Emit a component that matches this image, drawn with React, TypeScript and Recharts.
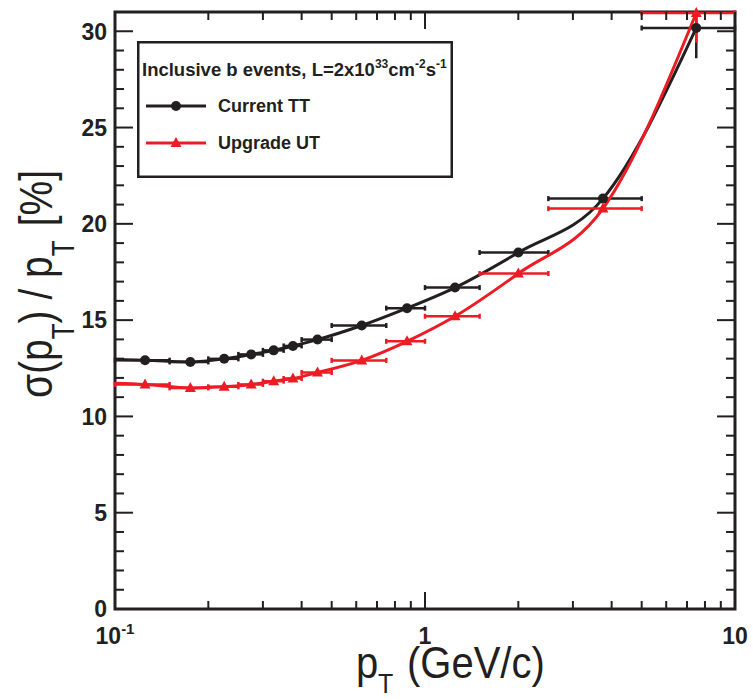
import React from "react";
import {
  ComposedChart,
  ErrorBar,
  Legend,
  Line,
  ReferenceArea,
  Scatter,
  XAxis,
  YAxis,
} from "recharts";

// pT bins (GeV/c): centre and half width
const ptCenters = [0.125, 0.175, 0.225, 0.275, 0.325, 0.375, 0.45, 0.625, 0.875, 1.25, 2, 3.75, 7.5];
const ptHalfWidths = [0.025, 0.025, 0.025, 0.025, 0.025, 0.025, 0.05, 0.125, 0.125, 0.25, 0.5, 1.25, 2.5];

// sigma(pT)/pT [%]
const currentTT = [12.92, 12.83, 12.99, 13.22, 13.43, 13.66, 13.99, 14.72, 15.62, 16.69, 18.51, 21.31, 30.17];
const upgradeUT = [11.66, 11.48, 11.54, 11.66, 11.83, 11.97, 12.28, 12.91, 13.9, 15.2, 17.42, 20.79, 30.95];

// vertical errors (only the last bin has a visible one)
const currentTTErrLow = [0, 0, 0, 0, 0, 0, 0, 0, 0, 0, 0, 0, 1.57];
const currentTTErrHigh = [0, 0, 0, 0, 0, 0, 0, 0, 0, 0, 0, 0, 0.8];
const upgradeUTErrLow = [0, 0, 0, 0, 0, 0, 0, 0, 0, 0, 0, 0, 1.55];
const upgradeUTErrHigh = [0, 0, 0, 0, 0, 0, 0, 0, 0, 0, 0, 0, 0.04];

// where the smooth curves meet the left frame (pT = 0.1)
const curveStartPt = 0.1;
const currentTTCurveStart = 12.95;
const upgradeUTCurveStart = 11.72;

const xTicks = [0.1, 0.2, 0.3, 0.4, 0.5, 0.6, 0.7, 0.8, 0.9, 1, 2, 3, 4, 5, 6, 7, 8, 9, 10];
const xMajor = [0.1, 1, 10];
const xLabelBase = ["10", "1", "10"];
const xLabelExp = ["-1", "", ""];
const yTicks = Array.from({ length: 31 }, (_, i) => i);

const FONT = '"Liberation Sans", Arial, Helvetica, sans-serif';
const INK = "#231f20";
const RED = "#ed1c24";

const PLOT_LEFT = 115;
const PLOT_RIGHT = 735;
const PLOT_TOP = 12;
const PLOT_BOTTOM = 609;

const ttPoints = ptCenters.map((x, i) => ({
  x,
  y: currentTT[i],
  ex: ptHalfWidths[i],
  ey: [currentTTErrLow[i], currentTTErrHigh[i]],
}));
const utPoints = ptCenters.map((x, i) => ({
  x,
  y: upgradeUT[i],
  ex: ptHalfWidths[i],
  ey: [upgradeUTErrLow[i], upgradeUTErrHigh[i]],
}));
const ttCurve = [{ x: curveStartPt, y: currentTTCurveStart }, ...ttPoints.map((p) => ({ x: p.x, y: p.y }))];
const utCurve = [{ x: curveStartPt, y: upgradeUTCurveStart }, ...utPoints.map((p) => ({ x: p.x, y: p.y }))];

function XTick(props: any) {
  const { x, payload } = props;
  const idx = xMajor.indexOf(payload.value);
  const len = idx >= 0 ? 17 : 8;
  return (
    <g>
      <line x1={x} x2={x} y1={PLOT_BOTTOM} y2={PLOT_BOTTOM - len} stroke={INK} strokeWidth={2} />
      <line x1={x} x2={x} y1={PLOT_TOP} y2={PLOT_TOP + len} stroke={INK} strokeWidth={2} />
      {idx >= 0 && (
        <text x={x} y={644} textAnchor="middle" fontFamily={FONT} fontWeight="bold" fontSize={23} fill={INK}>
          {xLabelBase[idx]}
          {xLabelExp[idx] && (
            <tspan dy={-10} fontSize={15}>
              {xLabelExp[idx]}
            </tspan>
          )}
        </text>
      )}
    </g>
  );
}

function YTick(props: any) {
  const { y, payload } = props;
  const major = payload.value % 5 === 0;
  const len = major ? 18 : 9;
  return (
    <g>
      <line x1={PLOT_LEFT} x2={PLOT_LEFT + len} y1={y} y2={y} stroke={INK} strokeWidth={2} />
      <line x1={PLOT_RIGHT} x2={PLOT_RIGHT - len} y1={y} y2={y} stroke={INK} strokeWidth={2} />
      {major && (
        <text x={107} y={y} dy="0.36em" textAnchor="end" fontFamily={FONT} fontWeight="bold" fontSize={23} fill={INK}>
          {payload.value}
        </text>
      )}
    </g>
  );
}

function XTitle() {
  return (
    <g transform="translate(0,678) scale(1,1.1)">
      <text x={356} y={0} fontFamily={FONT} fontSize={40} fill={INK}>
        p
        <tspan x={378} dy={14} fontSize={25}>T</tspan>
        <tspan x={407} dy={-14}>(GeV/c)</tspan>
      </text>
    </g>
  );
}

function YTitle() {
  return (
    <g transform="translate(52,398) rotate(-90) scale(1,1.2)">
      <text x={0} y={0} fontFamily={FONT} fontSize={39} fill={INK}>
        σ(p
        <tspan dy={18} fontSize={26}>T</tspan>
        <tspan dy={-18}>) / p</tspan>
        <tspan dy={18} fontSize={26}>T</tspan>
        <tspan dy={-18} dx={14}>[%]</tspan>
      </text>
    </g>
  );
}

function Dot(props: any) {
  const { cx, cy } = props;
  return <circle cx={cx} cy={cy} r={5} fill={INK} />;
}

function Triangle(props: any) {
  const { cx, cy } = props;
  return <path d={`M${cx - 5.5},${cy + 4} L${cx + 5.5},${cy + 4} L${cx},${cy - 6} Z`} fill={RED} />;
}

function LegendBox() {
  return (
    <svg width={316} height={137} style={{ display: "block" }}>
      <rect x={1.25} y={1.25} width={313.5} height={134.5} fill="#fff" stroke={INK} strokeWidth={2.5} />
      <text x={5} y={35} fontFamily={FONT} fontWeight="bold" fontSize={18.5} fill={INK}>
        Inclusive b events, L=2x10
        <tspan dy={-8} fontSize={12}>33</tspan>
        <tspan dy={8}>cm</tspan>
        <tspan dy={-8} fontSize={12}>-2</tspan>
        <tspan dy={8}>s</tspan>
        <tspan dy={-8} fontSize={12}>-1</tspan>
      </text>
      <line x1={9} x2={69} y1={65} y2={65} stroke={INK} strokeWidth={3} />
      <circle cx={39} cy={65} r={5} fill={INK} />
      <text x={81} y={71} fontFamily={FONT} fontWeight="bold" fontSize={18} fill={INK}>
        Current TT
      </text>
      <line x1={9} x2={69} y1={102} y2={102} stroke={RED} strokeWidth={3} />
      <path d="M33.5,106 L44.5,106 L39,96 Z" fill={RED} />
      <text x={81} y={108} fontFamily={FONT} fontWeight="bold" fontSize={18} fill={INK}>
        Upgrade UT
      </text>
    </svg>
  );
}

export default function App() {
  return (
    <div style={{ position: "absolute", left: 0, top: 0, width: 753, height: 700, background: "#fff" }}>
      <ComposedChart width={753} height={700} margin={{ top: PLOT_TOP, right: 753 - PLOT_RIGHT, bottom: 0, left: 0 }}>
        <XAxis
          dataKey="x"
          type="number"
          scale="log"
          domain={[0.1, 10]}
          ticks={xTicks}
          interval={0}
          height={700 - PLOT_BOTTOM}
          tickSize={0}
          tickMargin={0}
          tickLine={false}
          axisLine={false}
          tick={<XTick />}
          label={<XTitle />}
        />
        <YAxis
          type="number"
          domain={[0, 31]}
          ticks={yTicks}
          interval={0}
          width={PLOT_LEFT}
          tickSize={0}
          tickMargin={0}
          tickLine={false}
          axisLine={false}
          tick={<YTick />}
          label={<YTitle />}
        />
        <ReferenceArea
          x1={0.1}
          x2={10}
          y1={0}
          y2={31}
          fill="none"
          fillOpacity={0}
          stroke={INK}
          strokeWidth={3}
          ifOverflow="visible"
        />
        <Line
          data={ttCurve}
          dataKey="y"
          type="monotone"
          stroke={INK}
          strokeWidth={3}
          dot={false}
          activeDot={false}
          isAnimationActive={false}
          legendType="none"
        />
        <Scatter data={ttPoints} dataKey="y" fill={INK} shape={<Dot />} isAnimationActive={false} legendType="none">
          <ErrorBar dataKey="ex" direction="x" width={2.5} stroke={INK} strokeWidth={2.5} isAnimationActive={false} />
          <ErrorBar dataKey="ey" direction="y" width={0} stroke={INK} strokeWidth={2.5} isAnimationActive={false} />
        </Scatter>
        <Line
          data={utCurve}
          dataKey="y"
          type="monotone"
          stroke={RED}
          strokeWidth={3}
          dot={false}
          activeDot={false}
          isAnimationActive={false}
          legendType="none"
        />
        <Scatter data={utPoints} dataKey="y" fill={RED} shape={<Triangle />} isAnimationActive={false} legendType="none">
          <ErrorBar dataKey="ex" direction="x" width={2.5} stroke={RED} strokeWidth={2.5} isAnimationActive={false} />
          <ErrorBar dataKey="ey" direction="y" width={0} stroke={RED} strokeWidth={2.5} isAnimationActive={false} />
        </Scatter>
        <Legend
          layout="vertical"
          align="center"
          verticalAlign="middle"
          wrapperStyle={{ position: "absolute", left: 137, top: 41, width: 316, height: 137 }}
          content={() => <LegendBox />}
        />
      </ComposedChart>
    </div>
  );
}
